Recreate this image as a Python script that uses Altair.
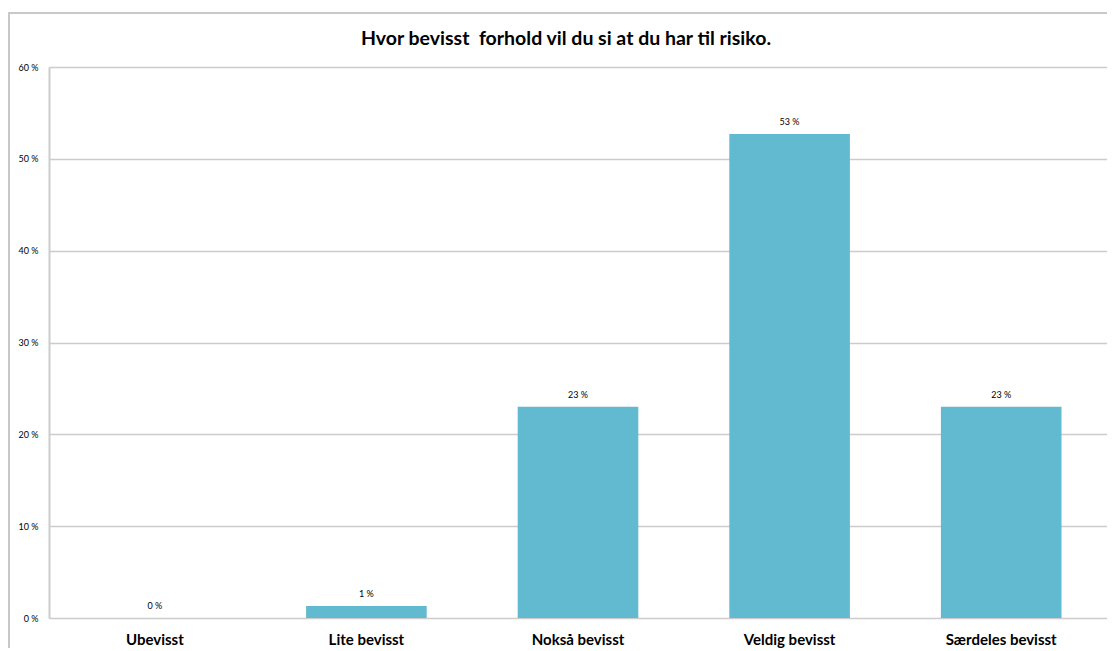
import altair as alt
import pandas as pd

categories = ["Ubevisst", "Lite bevisst", "Nokså bevisst", "Veldig bevisst", "Særdeles bevisst"]
values = [0.0, 1.3, 23.0, 52.7, 23.0]
y_ticks = [0, 10, 20, 30, 40, 50, 60]
title_text = "Hvor bevisst\u00a0 forhold vil du si at du har til risiko."

df = pd.DataFrame({"kategori": categories, "verdi": values})

FONT = "Lato"
BAR = "#62bad0"
GRID = "#cccccc"

x_enc = alt.X("kategori:N", sort=categories, title=None,
              scale=alt.Scale(paddingInner=0.43, paddingOuter=0.215),
              axis=alt.Axis(labelAngle=0, labelFont=FONT, labelFontSize=15,
                            labelFontWeight="bold", labelColor="#000000",
                            labelPadding=14, ticks=False, domain=False, grid=False))
y_enc = alt.Y("verdi:Q", title=None,
              scale=alt.Scale(domain=[0, 60], nice=False),
              axis=alt.Axis(values=y_ticks, labelExpr="datum.value + ' %'",
                            labelFont=FONT, labelFontSize=9, labelColor="#000000",
                            labelPadding=11, ticks=False, domain=True,
                            domainColor=GRID, domainWidth=2,
                            grid=True, gridColor=GRID, gridWidth=1.5))

base = alt.Chart(df)

bars = base.mark_bar(color=BAR).encode(x=x_enc, y=y_enc)

labels = base.transform_calculate(
    lbl="format(datum.verdi, '.0f') + ' %'"
).mark_text(font=FONT, fontSize=9, dy=-12, color="#000000").encode(
    x=alt.X("kategori:N", sort=categories),
    y=alt.Y("verdi:Q"),
    text="lbl:N",
)

frame = alt.Chart(alt.Data(values=[{}])).mark_rect(
    fill="transparent", stroke="#c8c8c8", strokeWidth=2
).encode(
    x=alt.value(-40), x2=alt.value(1120),
    y=alt.value(-54), y2=alt.value(640),
)

chart = alt.layer(bars, labels, frame).properties(
    width=1058, height=551,
    title=alt.TitleParams(title_text, font=FONT, fontSize=19.5, fontWeight="bold",
                          color="#000000", anchor="middle", dx=-12, offset=-37,
                          zindex=1),
    autosize=alt.AutoSizeParams(type="none"),
    padding={"left": 41, "top": 59, "right": 0, "bottom": 30},
).configure_view(stroke=None).configure(background="white")

chart.save("out.html", embed_options={"renderer": "svg", "actions": False})
